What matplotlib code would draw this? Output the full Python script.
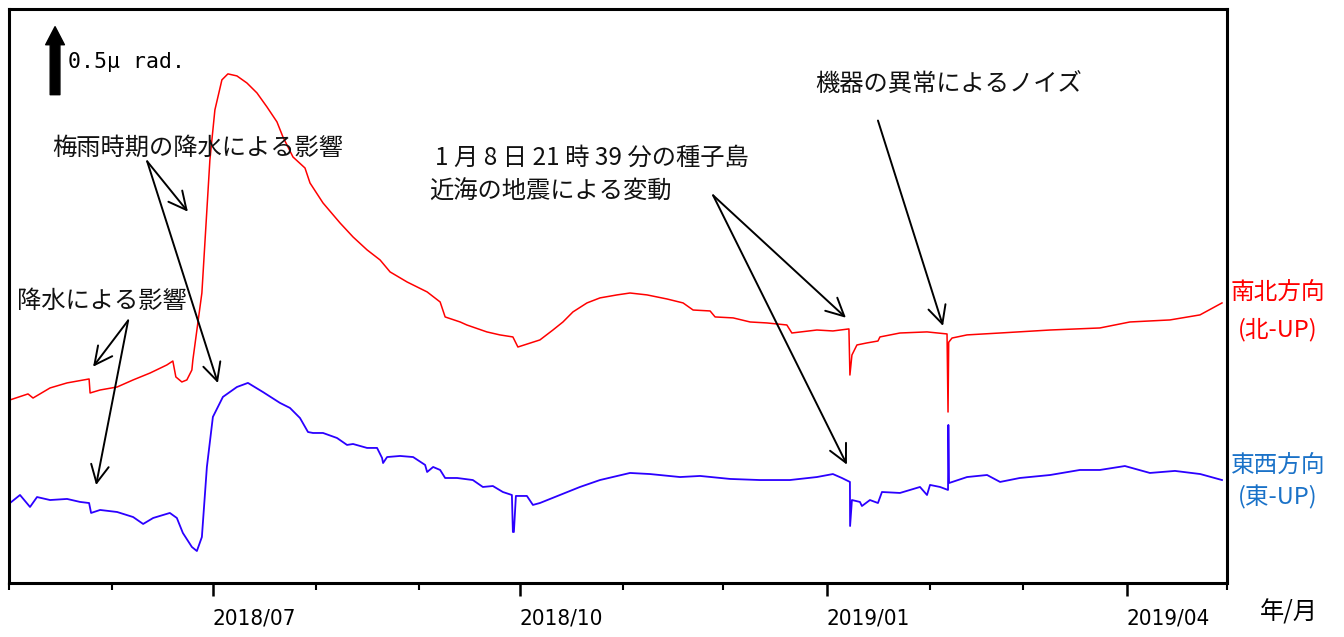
import numpy as np
import pandas as pd
import matplotlib
matplotlib.use("Agg")
import matplotlib.pyplot as plt
import matplotlib.dates as mdates

plt.rcParams['font.family'] = ['Noto Sans CJK JP', 'DejaVu Sans']

# ---------------------------------------------------------
# data: days since 2018-05-01, tilt in micro-radian (relative)
# ---------------------------------------------------------
start = pd.Timestamp("2018-05-01")
end = pd.Timestamp("2019-05-01")

ns_days = [0.3, 5.7, 7.2, 12.3, 17.4, 24.0, 24.3, 27.3, 32.4, 37.2, 42.3, 47.3,
           49.1, 50.0, 51.8, 53.3, 54.8, 55.1, 57.8, 59.3, 60.2, 61.7, 63.8,
           65.6, 68.3, 71.3, 74.3, 77.3, 80.3, 82.1, 85.1, 88.7, 90.2, 94.1,
           99.2, 103.1, 107.3, 111.2, 114.2, 119.3, 125.3, 129.2, 130.7, 135.2,
           137.2, 143.2, 147.1, 151.0, 152.5, 159.1, 163.0, 166.0, 169.0, 173.2,
           177.1, 182.2, 186.1, 191.2, 197.2, 202.0, 205.0, 210.1, 211.6, 217.0,
           222.1, 227.1, 233.1, 234.6, 242.1, 246.9, 251.7, 252.0, 252.6, 254.1,
           257.1, 260.4, 261.0, 267.0, 275.1, 281.1, 281.4, 281.6, 282.6, 287.1,
           297.0, 312.0, 326.9, 335.9, 347.9, 356.9, 363.5]
ns_tilt = [1.346, 1.390, 1.360, 1.434, 1.471, 1.500, 1.397, 1.419, 1.441, 1.493,
           1.544, 1.603, 1.632, 1.515, 1.478, 1.493, 1.566, 1.640, 2.132, 2.743,
           3.110, 3.478, 3.699, 3.743, 3.728, 3.676, 3.603, 3.500, 3.390, 3.279,
           3.132, 3.051, 2.941, 2.794, 2.647, 2.544, 2.449, 2.375, 2.287, 2.213,
           2.140, 2.066, 1.956, 1.919, 1.897, 1.846, 1.824, 1.809, 1.735, 1.787,
           1.860, 1.919, 1.993, 2.059, 2.096, 2.118, 2.132, 2.118, 2.088, 2.059,
           2.007, 2.000, 1.956, 1.949, 1.919, 1.912, 1.897, 1.838, 1.860, 1.853,
           1.868, 1.529, 1.676, 1.750, 1.765, 1.779, 1.809, 1.838, 1.846, 1.831,
           1.257, 1.770, 1.801, 1.824, 1.838, 1.860, 1.875, 1.919, 1.934, 1.971,
           2.059]

ew_days = [0.3, 3.3, 6.3, 8.4, 12.3, 17.4, 21.3, 24.0, 24.6, 27.3, 32.4, 37.2,
           40.2, 43.2, 48.2, 50.3, 52.1, 54.8, 56.3, 57.8, 59.3, 61.1, 64.1,
           68.3, 71.6, 76.1, 81.2, 84.2, 87.2, 89.6, 91.1, 94.1, 98.3, 101.3,
           103.1, 107.3, 110.3, 111.8, 112.1, 113.3, 117.2, 121.1, 124.7, 125.3,
           127.1, 129.2, 130.7, 134.3, 139.0, 142.0, 145.0, 148.0, 150.7, 151.0,
           151.3, 151.9, 155.2, 157.0, 159.1, 165.1, 171.1, 177.1, 186.1, 192.1,
           201.1, 207.1, 216.1, 225.0, 234.0, 242.1, 246.9, 249.6, 252.0, 252.05,
           252.6, 255.0, 255.6, 258.0, 260.4, 261.6, 267.0, 270.0, 273.0, 275.1,
           276.0, 279.0, 281.4, 281.5, 281.7, 287.1, 293.1, 297.0, 302.9, 312.0,
           320.9, 326.9, 334.4, 341.9, 349.4, 357.0, 363.5]
ew_tilt = [0.588, 0.647, 0.559, 0.632, 0.610, 0.618, 0.596, 0.588, 0.515, 0.537,
           0.522, 0.485, 0.434, 0.478, 0.515, 0.478, 0.368, 0.265, 0.235, 0.338,
           0.853, 1.221, 1.368, 1.441, 1.471, 1.404, 1.324, 1.287, 1.213, 1.110,
           1.103, 1.103, 1.066, 1.015, 1.022, 0.993, 0.993, 0.919, 0.882, 0.926,
           0.934, 0.926, 0.868, 0.816, 0.853, 0.831, 0.772, 0.772, 0.757, 0.706,
           0.713, 0.669, 0.647, 0.375, 0.375, 0.640, 0.640, 0.574, 0.588, 0.647,
           0.706, 0.757, 0.809, 0.801, 0.779, 0.787, 0.765, 0.757, 0.757, 0.779,
           0.801, 0.772, 0.743, 0.419, 0.610, 0.596, 0.566, 0.610, 0.588, 0.669,
           0.662, 0.684, 0.706, 0.647, 0.721, 0.706, 0.684, 1.162, 0.735, 0.779,
           0.794, 0.743, 0.772, 0.794, 0.831, 0.831, 0.860, 0.809, 0.824, 0.801,
           0.757]

ns_dates = start + pd.to_timedelta(ns_days, unit="D")
ew_dates = start + pd.to_timedelta(ew_days, unit="D")


def d(day):
    # position helper: day offset -> matplotlib date number
    return mdates.date2num(start + pd.Timedelta(days=day))


# ---------------------------------------------------------
# figure
# ---------------------------------------------------------
fig = plt.figure(figsize=(13.44, 6.37), dpi=100)
ax = fig.add_axes([9 / 1344, 54 / 637, 1218 / 1344, 574 / 637])

ax.plot(ns_dates, ns_tilt, color="#ff0000", lw=1.1)
ax.plot(ew_dates, ew_tilt, color="#2b00ff", lw=1.3)

ax.set_xlim(start, end)
ax.set_ylim(0, 4.22)
ax.set_yticks([])

ax.xaxis.set_major_locator(mdates.MonthLocator(bymonth=[1, 4, 7, 10]))
ax.xaxis.set_minor_locator(mdates.MonthLocator())
ax.xaxis.set_major_formatter(mdates.DateFormatter("%Y/%m"))
ax.tick_params(axis="x", which="major", length=9, width=1.8, pad=9,
               labelsize=16)
ax.tick_params(axis="x", which="minor", length=5, width=1.5)
for lab in ax.get_xticklabels():
    lab.set_ha("left")
    lab.set_family("DejaVu Sans")
    lab.set_stretch("condensed")

for spine in ax.spines.values():
    spine.set_linewidth(2.2)
    spine.set_color("black")

# scale bar
ax.annotate("", xy=(d(13.8), 4.09), xytext=(d(13.8), 3.59),
            arrowprops=dict(arrowstyle="simple,head_length=1.3,head_width=1.35,tail_width=0.7",
                            color="black", shrinkA=0, shrinkB=0, mutation_scale=10),
            annotation_clip=False)
ax.text(d(17.7), 3.83, "0.5μ rad.", fontsize=15.5, va="center", ha="left",
        family=["DejaVu Sans Mono"])

# annotations
arr = dict(arrowstyle="->", lw=1.4, color="black", mutation_scale=32,
           shrinkA=0, shrinkB=0)
txt = dict(fontsize=17.5, va="center", ha="left", color="#111111")

ax.text(d(12.9), 3.20, "梅雨時期の降水による影響", **txt)
ax.annotate("", xy=(d(53.6), 2.73), xytext=(d(41.4), 3.10), arrowprops=arr)
ax.annotate("", xy=(d(62.6), 1.47), xytext=(d(41.4), 3.10), arrowprops=arr)

ax.text(d(2.4), 2.07, "降水による影響", **txt)
ax.annotate("", xy=(d(25.2), 1.59), xytext=(d(35.7), 1.93), arrowprops=arr)
ax.annotate("", xy=(d(26.1), 0.72), xytext=(d(35.7), 1.93), arrowprops=arr)

ax.text(d(127.7), 3.125, "1 月 8 日 21 時 39 分の種子島", **txt)
ax.text(d(125.9), 2.875, "近海の地震による変動", **txt)
ax.annotate("", xy=(d(250.8), 1.95), xytext=(d(211.0), 2.85), arrowprops=arr)
ax.annotate("", xy=(d(251.1), 0.87), xytext=(d(211.0), 2.85), arrowprops=arr)

ax.text(d(241.5), 3.66, "機器の異常によるノイズ", **txt)
ax.annotate("", xy=(d(279.9), 1.89), xytext=(d(260.4), 3.40), arrowprops=arr)

# right side labels
side = dict(fontsize=17, ha="center", va="center")
fig.text(1278 / 1344, 1 - 292 / 637, "南北方向", color="#ff0000", **side)
fig.text(1278 / 1344, 1 - 330 / 637, "(北-UP)", color="#ff0000", **side)
fig.text(1278 / 1344, 1 - 465 / 637, "東西方向", color="#1a72c8", **side)
fig.text(1278 / 1344, 1 - 497 / 637, "(東-UP)", color="#1a72c8", **side)
fig.text(1289 / 1344, 1 - 612 / 637, "年/月", color="black", fontsize=17.5,
         ha="center", va="center")

fig.savefig("out.png", dpi=100)
